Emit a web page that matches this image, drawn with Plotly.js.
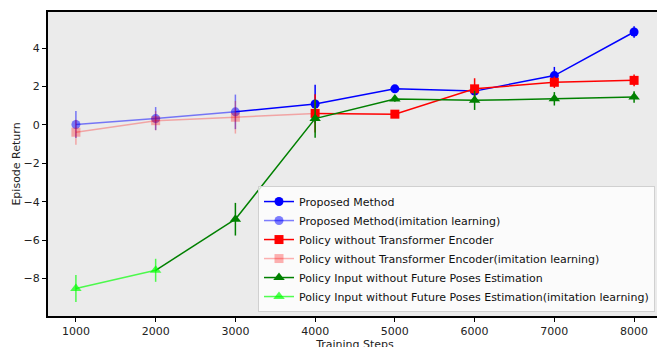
<!DOCTYPE html>
<html><head><meta charset="utf-8">
<script src="https://cdn.plot.ly/plotly-3.0.1.min.js"></script>
<style>html,body{margin:0;padding:0;overflow:hidden;background:#fff}</style>
</head><body><div id="chart"></div>
<script>
// ---- data ----
const xTicks = [1000, 2000, 3000, 4000, 5000, 6000, 7000, 8000];

const proposedSteps = [4000, 5000, 6000, 7000, 8000];
const proposed      = [1.09, 1.88, 1.76, 2.57, 4.84];
const proposedErr   = [1.0, 0.12, 0.12, 0.45, 0.3];

const proposedILSteps = [1000, 2000, 3000];
const proposedIL      = [0.02, 0.33, 0.68];
const proposedILErr   = [0.7, 0.6, 0.9];

const noTESteps = [4000, 5000, 6000, 7000, 8000];
const noTE      = [0.60, 0.56, 1.88, 2.22, 2.32];
const noTEErr   = [1.0, 0.1, 0.55, 0.3, 0.3];

const noTEILSteps = [1000, 2000, 3000];
const noTEIL      = [-0.38, 0.22, 0.40];
const noTEILErr   = [0.65, 0.5, 0.85];

const noFutureSteps = [3000, 4000, 5000, 6000, 7000, 8000];
const noFuture      = [-4.91, 0.33, 1.35, 1.28, 1.36, 1.45];
const noFutureErr   = [0.85, 1.0, 0.15, 0.5, 0.35, 0.3];

const noFutureILSteps = [1000, 2000];
const noFutureIL      = [-8.52, -7.57];
const noFutureILErr   = [0.7, 0.6];

const names = [
  'Proposed Method',
  'Proposed Method(imitation learning)',
  'Policy without Transformer Encoder',
  'Policy without Transformer Encoder(imitation learning)',
  'Policy Input without Future Poses Estimation',
  'Policy Input without Future Poses Estimation(imitation learning)'
];

// ---- styles ----
const cBlue = '#0000ff', cBlueL = 'rgba(0,0,255,0.5)';
const cRed = '#ff0000', cRedL = 'rgba(255,0,0,0.3)';
const cGreen = '#008000', cGreenL = 'rgba(0,255,0,0.68)';

function series(name, xs, ys, errs, color, symbol, size) {
  return {
    type: 'scatter', mode: 'lines+markers', name: name, x: xs, y: ys,
    line: {color: color, width: 1.5},
    marker: {color: color, symbol: symbol, size: size},
    error_y: {type: 'data', array: errs, visible: true, color: color, thickness: 1.5, width: 0}
  };
}
function connector(x0, y0, x1, y1, color) {
  return {
    type: 'scatter', mode: 'lines', showlegend: false, hoverinfo: 'skip',
    x: [x0, x1], y: [y0, y1], line: {color: color, width: 1.5}
  };
}
const last = a => a[a.length - 1];

const traces = [
  connector(last(proposedILSteps), last(proposedIL), proposedSteps[0], proposed[0], cBlue),
  connector(last(noTEILSteps), last(noTEIL), noTESteps[0], noTE[0], cRedL),
  connector(last(noFutureILSteps), last(noFutureIL), noFutureSteps[0], noFuture[0], cGreen),
  series(names[0], proposedSteps, proposed, proposedErr, cBlue, 'circle', 9),
  series(names[1], proposedILSteps, proposedIL, proposedILErr, cBlueL, 'circle', 9),
  series(names[2], noTESteps, noTE, noTEErr, cRed, 'square', 9),
  series(names[3], noTEILSteps, noTEIL, noTEILErr, cRedL, 'square', 9),
  series(names[4], noFutureSteps, noFuture, noFutureErr, cGreen, 'triangle-up', 10),
  series(names[5], noFutureILSteps, noFutureIL, noFutureILErr, cGreenL, 'triangle-up', 10)
];

const font = {family: 'DejaVu Sans', size: 11, color: '#222'};
const layout = {
  width: 670, height: 358,
  margin: {l: 48, r: 8, t: 12, b: 42},
  paper_bgcolor: '#ffffff', plot_bgcolor: '#ebebeb',
  font: font,
  showlegend: true,
  legend: {
    x: 0.9886, xanchor: 'right', y: 0.013, yanchor: 'bottom',
    bgcolor: 'rgba(255,255,255,0.8)', bordercolor: '#d0d0d0', borderwidth: 1,
    font: {family: 'DejaVu Sans', size: 11, color: '#111'},
    itemwidth: 30, tracegroupgap: 0
  },
  xaxis: {
    range: [650, 8350], tickvals: xTicks, ticktext: xTicks.map(String),
    showgrid: false, zeroline: false,
    showline: true, linecolor: '#000', linewidth: 2, mirror: true,
    ticks: 'outside', ticklen: 4, tickwidth: 1, tickcolor: '#000',
    tickfont: font,
    title: {text: 'Training Steps', font: font, standoff: 1}
  },
  yaxis: {
    range: [-9.95, 5.88], tickvals: [-8, -6, -4, -2, 0, 2, 4],
    showgrid: false, zeroline: false,
    showline: true, linecolor: '#000', linewidth: 2, mirror: true,
    ticks: 'outside', ticklen: 4, tickwidth: 1, tickcolor: '#000',
    tickfont: font,
    title: {text: 'Episode Return', font: font, standoff: 1}
  }
};

Plotly.newPlot('chart', traces, layout, {displayModeBar: false, staticPlot: true});
</script>
</body></html>
